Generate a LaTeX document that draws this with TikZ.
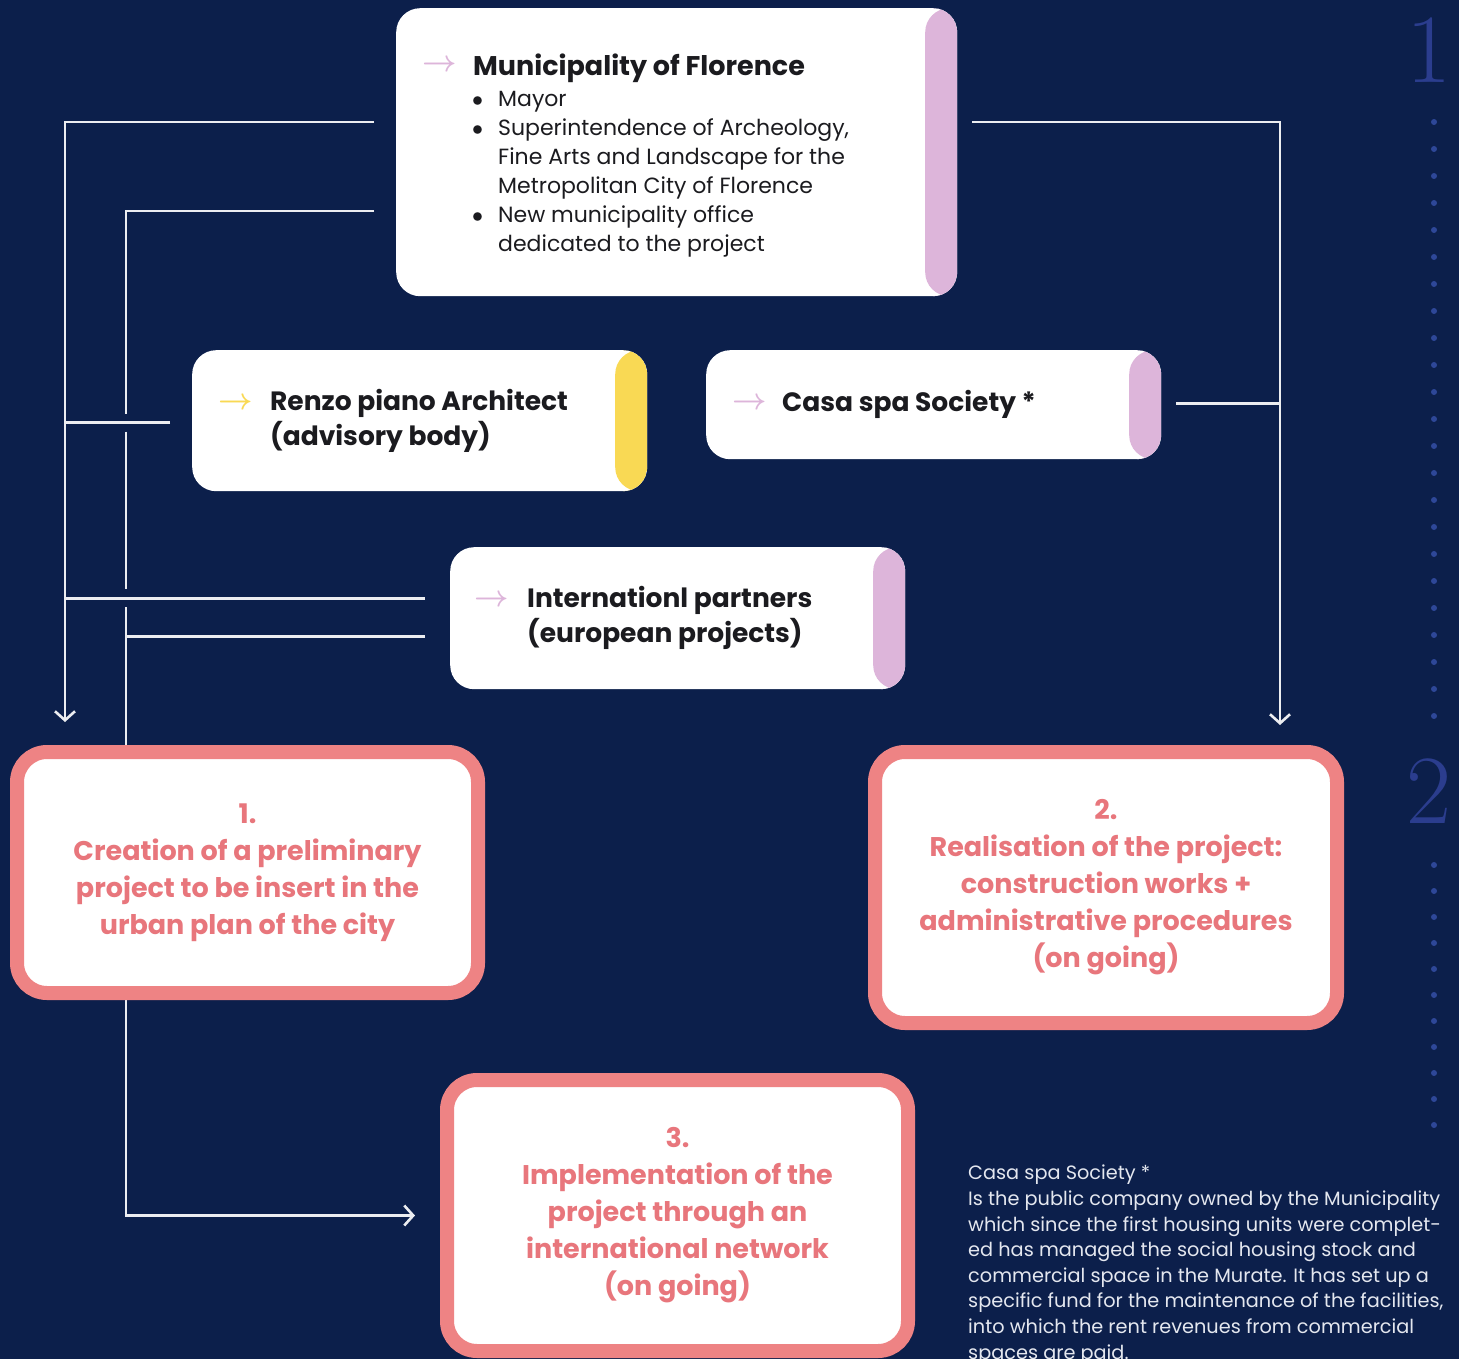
\RequirePackage{fix-cm}
\documentclass[tikz,border=0pt]{standalone}
\usepackage{fontspec}
\setsansfont{Poppins}
\renewcommand{\familydefault}{\sfdefault}
\usetikzlibrary{arrows.meta,positioning,backgrounds,calc}

\definecolor{navy}{HTML}{0C1F4B}
\definecolor{lilac}{HTML}{DDB5DA}
\definecolor{sun}{HTML}{F9D954}
\definecolor{coral}{HTML}{EE8384}
\definecolor{coraltext}{HTML}{E8767C}
\definecolor{dotblue}{HTML}{2E4798}
\definecolor{numblue}{HTML}{2B3D8E}
\definecolor{notegray}{HTML}{E4E7EF}
\definecolor{ink}{HTML}{1B1B1F}

\tikzset{
  actor/.style={fill=white, rounded corners=24pt, anchor=north west, inner sep=0pt,
    path picture={\fill[#1] ([xshift=-32pt]path picture bounding box.north east)
      rectangle (path picture bounding box.south east);}},
  stage/.style={draw=coral, line width=14pt, fill=white, rounded corners=30pt,
    anchor=north west, inner sep=0pt, text=coraltext, align=center,
    font=\fontsize{27}{37}\selectfont\bfseries},
  pointer/.style={text=#1, inner sep=0pt, font=\fontsize{30}{30}\selectfont\boldmath},
  label/.style={anchor=west, inner sep=0pt, align=left, text=ink,
    font=\fontsize{26.5}{35}\selectfont\bfseries},
  wire/.style={draw=white!92!navy, line width=2.6pt},
  flow/.style={-{Straight Barb[length=9pt,width=20pt]}}
}

\begin{document}
\begin{tikzpicture}[x=1pt,y=-1pt]
\useasboundingbox (0,0) rectangle (1459,1359);

% actors
\node[actor=lilac, minimum width=561pt, minimum height=288pt] (muni) at (396,8) {};
\node[actor=sun, minimum width=455pt, minimum height=141pt] (renzo) at (192,350) {};
\node[actor=lilac, minimum width=455pt, minimum height=109pt] (casa) at (706,350) {};
\node[actor=lilac, minimum width=455pt, minimum height=142pt] (intl) at (450,547) {};

\node[pointer=lilac] (muniarr) at (440,66) {$\rightarrow$};
\node[anchor=base west, inner sep=0pt, text=ink,
  font=\fontsize{27}{30}\selectfont\bfseries] (munititle) at (473,76) {Municipality of Florence};
\node[anchor=north west, inner sep=0pt, text=ink,
  font=\fontsize{22}{29}\selectfont] (munilist) at (472,86) {%
  \begin{tabular}{@{}p{26pt}@{}l@{}}
  $\bullet$ & Mayor\\
  $\bullet$ & Superintendence of Archeology,\\
   & Fine Arts and Landscape for the\\
   & Metropolitan City of Florence\\
  $\bullet$ & New municipality office\\
   & dedicated to the project
  \end{tabular}};

\node[pointer=sun] (renzoarr) at (236,404) {$\rightarrow$};
\node[label] (renzotxt) at (270,421) {Renzo piano Architect\\(advisory body)};
\node[pointer=lilac] (casaarr) at (750,404) {$\rightarrow$};
\node[label] (casatxt) at (782,404) {Casa spa Society *};
\node[pointer=lilac] (intlarr) at (492,601) {$\rightarrow$};
\node[label] (intltxt) at (527,618) {Internationl partners\\(european projects)};

% stages
\node[stage, minimum width=461pt, minimum height=241pt] (stage1) at (10,745)
  {1.\\Creation of a preliminary\\project to be insert in the\\urban plan of the city};
\node[stage, minimum width=462pt, minimum height=271pt] (stage2) at (868,745)
  {2.\\Realisation of the project:\\construction works +\\administrative procedures\\(on going)};
\node[stage, minimum width=461pt, minimum height=271pt] (stage3) at (440,1073)
  {3.\\Implementation of the\\project through an\\international network\\(on going)};

% note
\node[anchor=north west, inner sep=0pt, align=left, text=notegray,
  font=\fontsize{19.3}{25.6}\selectfont] (note) at (968,1165) {Casa spa Society *\\
  Is the public company owned by the Municipality\\
  which since the first housing units were complet-\\
  ed has managed the social housing stock and\\
  commercial space in the Murate. It has set up a\\
  specific fund for the maintenance of the facilities,\\
  into which the rent revenues from commercial\\
  spaces are paid.};

% side scale
\node[inner sep=0pt, text=numblue, font=\fontsize{98}{98}\selectfont\rmfamily] (phase1) at (1429,50) {1};
\node[inner sep=0pt, text=numblue, font=\fontsize{98}{98}\selectfont\rmfamily] (phase2) at (1429,791) {2};
\foreach \k in {0,...,22} \fill[dotblue] (1434,122+27*\k) circle (3pt);
\foreach \k in {0,...,10} \fill[dotblue] (1434,865+26*\k) circle (3pt);

% connectors
\coordinate (outerL) at (65,0);
\coordinate (innerL) at (126,0);
\coordinate (outerR) at (1280,0);
\coordinate (mL1) at ($(muni.north west)+(-22,114)$);
\coordinate (mL2) at ($(muni.north west)+(-22,203)$);
\coordinate (mR) at ($(muni.north east)+(15,114)$);
\coordinate (rz) at ($(renzo.west)+(-22,2)$);
\coordinate (cs) at ($(casa.east)+(15,-1)$);
\coordinate (inA) at ($(intl.west)+(-25,-20)$);
\coordinate (inB) at ($(intl.west)+(-25,18)$);
\coordinate (dropL) at ($(stage1.north -| outerL)+(0,-23)$);
\coordinate (dropR) at ($(stage2.north -| outerR)+(0,-20)$);
\coordinate (s3in) at ($(stage3.west)+(-25,0)$);

\begin{scope}[on background layer]
\fill[navy] (0,0) rectangle (1459,1359);
\draw[wire,flow] (mL1) -| (dropL);
\draw[wire] (mL2) -| ($(rz -| innerL)+(0,-9)$);
\draw[wire] ($(rz -| innerL)+(0,9)$) -- ($(inA -| innerL)+(0,-9)$);
\draw[wire] ($(inA -| innerL)+(0,9)$) -- (stage1.north -| innerL);
\draw[wire] (rz) -- (rz -| outerL);
\draw[wire] (inA) -- (inA -| outerL);
\draw[wire] (inB) -- (inB -| innerL);
\draw[wire,flow] (mR) -| (dropR);
\draw[wire] (cs) -- (cs -| outerR);
\draw[wire,flow] (stage1.south -| innerL) |- (s3in);
\end{scope}
\end{tikzpicture}
\end{document}
